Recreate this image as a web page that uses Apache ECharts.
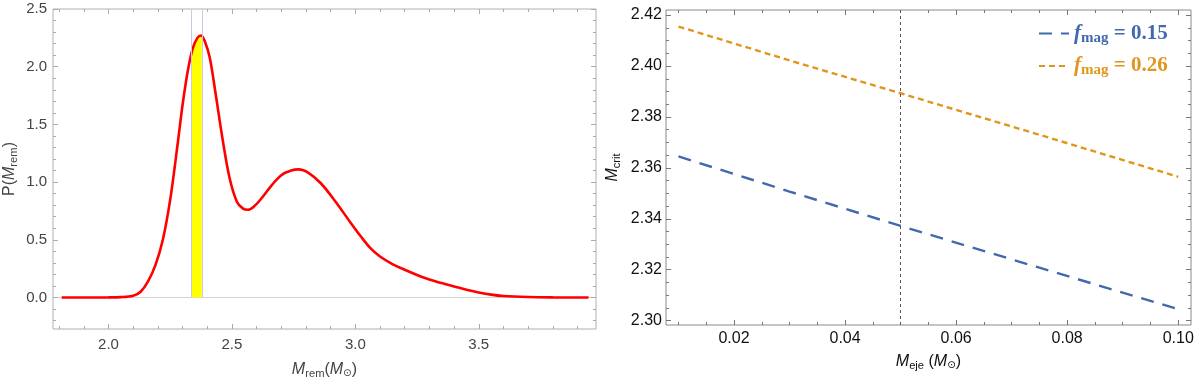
<!DOCTYPE html>
<html>
<head>
<meta charset="utf-8">
<script src="https://cdn.jsdelivr.net/npm/echarts@6/dist/echarts.min.js"></script>
<style>
html, body { margin: 0; padding: 0; background: #fff; }
#chart { width: 1200px; height: 384px; }
</style>
</head>
<body>
<div id="chart"></div>
<script>
// left panel: P(M_rem) distribution
var remX = [1.81, 1.9, 2.0, 2.05, 2.1, 2.13, 2.16, 2.19, 2.22, 2.25, 2.28, 2.30, 2.32, 2.34, 2.36, 2.375,
    2.39, 2.41, 2.435, 2.46, 2.49, 2.52, 2.545, 2.565, 2.59, 2.62, 2.66, 2.70, 2.74, 2.77, 2.81, 2.86,
    2.92, 2.98, 3.02, 3.06, 3.10, 3.15, 3.2, 3.25, 3.3, 3.35, 3.4, 3.45, 3.5, 3.55, 3.6, 3.7, 3.8, 3.945];
var remP = [0, 0, 0.001, 0.003, 0.015, 0.05, 0.14, 0.28, 0.50, 0.85, 1.33, 1.67, 1.95, 2.15, 2.25, 2.27,
    2.22, 2.08, 1.75, 1.40, 1.04, 0.83, 0.77, 0.76, 0.79, 0.86, 0.97, 1.06, 1.10, 1.11, 1.08, 0.99,
    0.83, 0.65, 0.535, 0.43, 0.355, 0.29, 0.24, 0.195, 0.155, 0.125, 0.095, 0.068, 0.044, 0.025, 0.013,
    0.004, 0.001, 0];
// yellow band under the peak
var bandX = [2.335, 2.34, 2.36, 2.378];
var bandP = [2.11, 2.15, 2.25, 2.27];

var leftXTicks = [2.0, 2.5, 3.0, 3.5];
var leftXMinor = [1.8, 1.9, 2.1, 2.2, 2.3, 2.4, 2.6, 2.7, 2.8, 2.9, 3.1, 3.2, 3.3, 3.4, 3.6, 3.7, 3.8, 3.9];
var leftYTicks = [0, 0.5, 1.0, 1.5, 2.0, 2.5];
var leftYMinor = [-0.2, -0.1, 0.1, 0.2, 0.3, 0.4, 0.6, 0.7, 0.8, 0.9, 1.1, 1.2, 1.3, 1.4,
    1.6, 1.7, 1.8, 1.9, 2.1, 2.2, 2.3, 2.4];

// right panel: M_crit vs M_eje
var ejeX = [0.01, 0.03, 0.05, 0.075, 0.1];
var critLow = [2.3645, 2.3507, 2.3372, 2.3208, 2.3045];   // f_mag = 0.15
var critHigh = [2.4155, 2.4022, 2.3893, 2.3730, 2.3565];  // f_mag = 0.26

var rightXTicks = [0.02, 0.04, 0.06, 0.08, 0.10];
var rightXMinor = [0.01, 0.015, 0.025, 0.03, 0.035, 0.045, 0.05, 0.055, 0.065, 0.07, 0.075,
    0.085, 0.09, 0.095];
var rightYTicks = [2.30, 2.32, 2.34, 2.36, 2.38, 2.40, 2.42];
var rightYMinor = [2.305, 2.31, 2.315, 2.325, 2.33, 2.335, 2.345, 2.35, 2.355, 2.365, 2.37, 2.375,
    2.385, 2.39, 2.395, 2.405, 2.41, 2.415];

var blue = '#4169ae';
var orange = '#e0961c';

function pairs(xs, ys) {
    return xs.map(function (x, i) { return [x, ys[i]]; });
}

// one axis per side for major ticks, one for minor ticks, mirrored on the opposite side
function frameAxes(kind, grid, min, max, majors, minors, o) {
    var sides = kind === 'x' ? ['bottom', 'top'] : ['left', 'right'];
    var out = [];
    sides.forEach(function (pos, si) {
        [majors, minors].forEach(function (vals, mi) {
            var ax = {
                type: 'value', gridIndex: grid, position: pos, min: min, max: max,
                axisLine: { show: false, onZero: false },
                splitLine: { show: false },
                axisTick: {
                    show: true, inside: true, length: mi === 0 ? o.major : o.minor,
                    customValues: vals, lineStyle: { color: o.tickColor, width: 1 }
                },
                axisLabel: { show: false }
            };
            if (si === 0 && mi === 0) {
                ax.axisLabel = {
                    show: true, customValues: majors, margin: o.margin,
                    formatter: function (v) { return v.toFixed(o.digits); },
                    color: o.labelColor, fontSize: o.fontSize, fontFamily: 'Liberation Sans'
                };
                ax.name = o.name;
                ax.nameLocation = 'middle';
                ax.nameGap = o.nameGap;
                if (kind === 'y') ax.nameRotate = 90;
                ax.nameTextStyle = { color: o.nameColor, rich: o.rich };
            }
            out.push(ax);
        });
    });
    return out;
}

function nameRich(color, size) {
    return {
        n: { fontFamily: 'Liberation Sans', fontSize: size, color: color },
        i: { fontFamily: 'Liberation Sans', fontStyle: 'italic', fontSize: size, color: color },
        s: { fontFamily: 'Liberation Sans', fontSize: size * 0.7, color: color, verticalAlign: 'top', padding: [size * 0.5, 0, 0, 0] },
        o: { fontFamily: 'DejaVu Sans', fontSize: size * 0.65, color: color, verticalAlign: 'top', padding: [size * 0.5, 0, 0, 0] }
    };
}

var leftX = frameAxes('x', 0, 1.775, 3.975, leftXTicks, leftXMinor, {
    major: 5, minor: 3, tickColor: '#aaa', labelColor: '#444', fontSize: 15, digits: 1, margin: 8,
    name: '{i|M}{s|rem}{n|(}{i|M}{o|⊙}{n|)}', nameGap: 31, nameColor: '#444', rich: nameRich('#444', 16)
});
// zero line of the left panel
leftX.push({
    type: 'value', gridIndex: 0, position: 'bottom', min: 1.775, max: 3.975,
    axisLine: { show: true, onZero: true, lineStyle: { color: '#d4d4d4', width: 1 } },
    axisTick: { show: false }, axisLabel: { show: false }, splitLine: { show: false }
});
var leftY = frameAxes('y', 0, -0.273, 2.5, leftYTicks, leftYMinor, {
    major: 5, minor: 3, tickColor: '#aaa', labelColor: '#444', fontSize: 15, digits: 1, margin: 6,
    name: '{n|P(}{i|M}{s|rem}{n|)}', nameGap: 34, nameColor: '#444', rich: nameRich('#444', 16)
});
var rightX = frameAxes('x', 1, 0.00775, 0.1023, rightXTicks, rightXMinor, {
    major: 5, minor: 3, tickColor: '#777', labelColor: '#111', fontSize: 16, digits: 2, margin: 6,
    name: '{i|M}{s|eje}{n| (}{i|M}{o|⊙}{n|)}', nameGap: 27, nameColor: '#111', rich: nameRich('#111', 16)
});
var rightY = frameAxes('y', 1, 2.2983, 2.4220, rightYTicks, rightYMinor, {
    major: 5, minor: 3, tickColor: '#777', labelColor: '#111', fontSize: 16, digits: 2, margin: 4,
    name: '{i|M}{s|crit}', nameGap: 44, nameColor: '#111', rich: nameRich('#111', 16)
});
var rx = leftX.length;
var ry = leftY.length;

var legendRich = {
    fb: { fontFamily: 'Liberation Serif', fontStyle: 'italic', fontWeight: 'bold', fontSize: 21, color: blue },
    mb: { fontFamily: 'Liberation Serif', fontWeight: 'bold', fontSize: 15, color: blue, verticalAlign: 'top', padding: [9, 0, 0, 0] },
    eb: { fontFamily: 'Liberation Serif', fontWeight: 'bold', fontSize: 21, color: blue },
    fo: { fontFamily: 'Liberation Serif', fontStyle: 'italic', fontWeight: 'bold', fontSize: 21, color: orange },
    mo: { fontFamily: 'Liberation Serif', fontWeight: 'bold', fontSize: 15, color: orange, verticalAlign: 'top', padding: [9, 0, 0, 0] },
    eo: { fontFamily: 'Liberation Serif', fontWeight: 'bold', fontSize: 21, color: orange }
};

var chart = echarts.init(document.getElementById('chart'));
chart.setOption({
    animation: false,
    backgroundColor: '#fff',
    grid: [
        { left: 53, top: 9, width: 543, height: 325, show: true, borderColor: '#b0b0b0', borderWidth: 1 },
        { left: 666, top: 10, width: 525, height: 315, show: true, borderColor: '#8a8a8a', borderWidth: 1 }
    ],
    legend: {
        left: 1033, top: 18, orient: 'vertical', itemWidth: 30, itemHeight: 14, itemGap: 10,
        data: ['f015', 'f026'],
        itemStyle: { color: 'transparent', borderColor: 'transparent', borderWidth: 0 },
        formatter: function (name) {
            return name === 'f015' ? '{fb|f}{mb|mag}{eb| = 0.15}' : '{fo|f}{mo|mag}{eo| = 0.26}';
        },
        textStyle: { rich: legendRich }
    },
    xAxis: leftX.concat(rightX),
    yAxis: leftY.concat(rightY),
    series: [
        {
            type: 'line', xAxisIndex: 0, yAxisIndex: 0, symbol: 'none', silent: true,
            data: pairs(bandX, bandP),
            lineStyle: { width: 0 },
            areaStyle: { color: '#ffff00', opacity: 1 },
            markLine: {
                silent: true, symbol: 'none', label: { show: false },
                lineStyle: { color: '#c9cbe6', type: 'solid', width: 1 },
                data: [
                    [{ coord: [bandX[0], 0] }, { coord: [bandX[0], 2.5] }],
                    [{ coord: [bandX[bandX.length - 1], 0] }, { coord: [bandX[bandX.length - 1], 2.5] }]
                ]
            }
        },
        {
            type: 'line', xAxisIndex: 0, yAxisIndex: 0, symbol: 'none', silent: true,
            smooth: 0.35,
            data: pairs(remX, remP),
            lineStyle: { color: '#ff0000', width: 2.6 },
            z: 3
        },
        {
            name: 'f015', type: 'line', xAxisIndex: rx, yAxisIndex: ry, symbol: 'none',
            data: pairs(ejeX, critLow),
            itemStyle: { color: blue },
            lineStyle: { color: blue, width: 2.4, type: [13, 9] },
            markLine: {
                silent: true, symbol: 'none', label: { show: false },
                lineStyle: { color: '#555', type: [3, 3], width: 1 },
                data: [[{ coord: [0.05, 2.2983] }, { coord: [0.05, 2.4220] }]]
            }
        },
        {
            name: 'f026', type: 'line', xAxisIndex: rx, yAxisIndex: ry, symbol: 'none',
            data: pairs(ejeX, critHigh),
            itemStyle: { color: orange },
            lineStyle: { color: orange, width: 2.4, type: [6, 4] }
        }
    ]
});
</script>
</body>
</html>
